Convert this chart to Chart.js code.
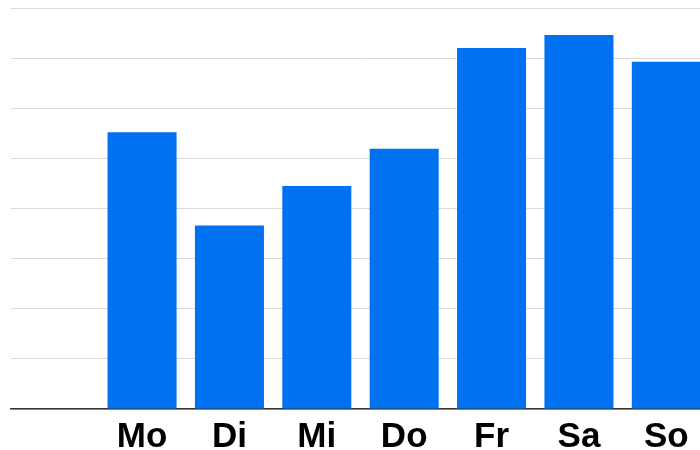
<!DOCTYPE html>
<html>
<head>
<meta charset="utf-8">
<script src="https://cdn.jsdelivr.net/npm/chart.js@4"></script>
<style>
body { margin: 0; overflow: hidden; background: #fff; }
#wrap { width: 710px; height: 450px; }
</style>
</head>
<body>
<div id="wrap"><canvas id="mycanvas"></canvas></div>
<script>
// first slot is empty on purpose, chart starts with a gap
var days = ["", "Mo", "Di", "Mi", "Do", "Fr", "Sa", "So"];
var values = [null, 5.52, 3.66, 4.45, 5.19, 7.2, 7.46, 6.93];
var yMax = 8;

var ctx = document.getElementById("mycanvas");
var barGraph = new Chart(ctx, {
	type: 'bar',
	data: {
		labels: days,
		datasets: [{
			data: values,
			backgroundColor: '#0071F0',
			borderWidth: 0,
			barPercentage: 0.79,
			categoryPercentage: 1.0
		}]
	},
	options: {
		responsive: true,
		maintainAspectRatio: false,
		animation: false,
		layout: { padding: { left: 11, top: 8, right: 0, bottom: 0 } },
		plugins: { legend: { display: false }, tooltip: { enabled: false } },
		scales: {
			x: {
				grid: { display: false },
				border: { color: '#333333', width: 1.5 },
				ticks: {
					color: '#000000',
					padding: -1,
					font: { family: 'Liberation Sans, Arial, sans-serif', size: 35, weight: 'bold' }
				},
				afterFit: function(scale) { scale.height = 41; }
			},
			y: {
				min: 0,
				max: yMax,
				ticks: { display: false, stepSize: 1 },
				grid: { color: '#d9d9d9', lineWidth: 1, drawTicks: false },
				border: { display: false },
				afterFit: function(scale) { scale.width = 0; }
			}
		}
	}
});
</script>
</body>
</html>
